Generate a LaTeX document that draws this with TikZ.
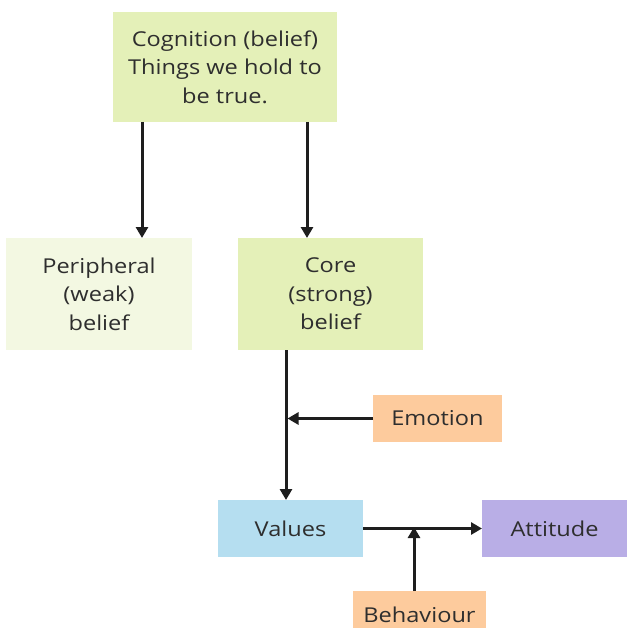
\documentclass[tikz,border=0pt]{standalone}
\usepackage{fontspec}
\setmainfont{Open Sans}[FakeStretch=1.15]
\usetikzlibrary{arrows.meta,calc}
\definecolor{cgreen}{HTML}{E4F0B8}
\definecolor{cpale}{HTML}{F3F8E2}
\definecolor{corange}{HTML}{FDCB9D}
\definecolor{cblue}{HTML}{B5DEF0}
\definecolor{cviolet}{HTML}{B9AEE6}
\definecolor{ctext}{HTML}{2E2E2E}
\definecolor{cline}{HTML}{1E1E1E}
\tikzset{
  box/.style={inner sep=0pt, outer sep=0pt, align=center, text=ctext,
    font=\fontsize{20.5}{28.5}\selectfont},
  arr/.style={draw=cline, line width=3pt, -{Triangle[length=11pt,width=12pt]}},
}
\begin{document}
\begin{tikzpicture}[x=1pt,y=-1pt]
\useasboundingbox (0,0) rectangle (627,628);
\fill[white] (0,0) rectangle (627,628);
\clip (0,0) rectangle (627,628);
\node[box, fill=cgreen, minimum width=224pt, minimum height=110pt] (cog) at (225,67)
  {Cognition (belief)\\Things we hold to\\be true.};
\node[box, fill=cpale, minimum width=186pt, minimum height=112pt] (per) at (99,294)
  {Peripheral\\(weak)\\belief};
\node[box, fill=cgreen, minimum width=185pt, minimum height=112pt] (core) at (330.5,294)
  {Core\\(strong)\\belief};
\node[box, fill=corange, minimum width=129pt, minimum height=47pt] (emo) at (437.5,418.5)
  {Emotion};
\node[box, fill=cblue, minimum width=145pt, minimum height=57pt] (val) at (290.5,528.5)
  {Values};
\node[box, fill=cviolet, minimum width=145pt, minimum height=57pt] (att) at (554.5,528.5)
  {Attitude};
\node[box, fill=corange, minimum width=133pt, minimum height=47pt] (beh) at (419.5,614.5)
  {Behaviour};
% connectors
\draw[arr] ([xshift=29pt]cog.south west) -- ([xshift=29pt]cog.south west |- per.north);
\draw[arr] ([xshift=-30pt]cog.south east) -- ([xshift=-30pt]cog.south east |- core.north);
\draw[arr] ([xshift=48pt]core.south west) coordinate (cv) -- (cv |- val.north);
\coordinate (em) at ($(cv |- emo.west)+(1.5pt,0)$);
\draw[arr] (emo.west) -- (em);
\draw[arr] (val.east) -- (att.west);
\coordinate (bm) at ($(beh.north) + (-5.5pt,0)$);
\coordinate (bt) at ($(bm |- val.east)+(0,1.5pt)$);
\draw[arr] (bm) -- (bt);
\end{tikzpicture}
\end{document}
